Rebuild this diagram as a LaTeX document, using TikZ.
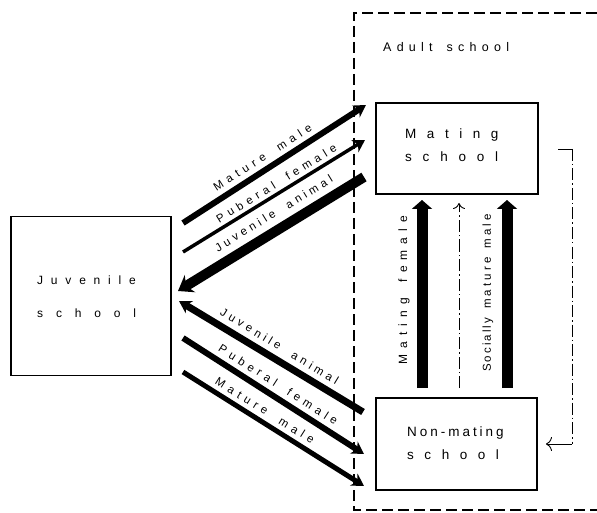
\documentclass[tikz,border=0pt]{standalone}
\usepackage{fontspec}
\setmainfont{Liberation Sans}
\usetikzlibrary{arrows.meta}
\newcommand\trk[2]{{\addfontfeatures{LetterSpace=#1}#2}}
\begin{document}
\begin{tikzpicture}[x=1pt,y=-1pt,
  schoolbox/.style={draw,line width=1.5pt,inner sep=0pt},
  boxtxt/.style={anchor=base west,inner sep=0pt,font=\fontsize{13.5}{15}\selectfont},
  juvtxt/.style={anchor=base west,inner sep=0pt,font=\fontsize{12}{14}\selectfont},
  lbl/.style={inner sep=0pt,font=\fontsize{11.5}{13}\selectfont},
  fat/.style={line width=#1,line cap=butt},
  headS/.style={-{Stealth[length=12pt,width=14pt]}},
  headL/.style={-{Stealth[length=14pt,width=20pt]}},
  uphead/.style={-{Triangle[length=9pt,width=20pt]}},
  dashdot/.style={line width=0.9pt,dash pattern=on 12pt off 3pt on 1.5pt off 3pt},
  adultline/.style={line width=1.3pt,dash pattern=on 11pt off 5pt}]
\useasboundingbox (0,0) rectangle (597,513);

% adult school frame (open on the right)
\coordinate (ftr) at (597,13);
\coordinate (ftl) at (354,13);
\coordinate (fbl) at (354,510);
\coordinate (fbr) at (597,510);
\draw[adultline] (ftr) -- (ftl) -- (fbl) -- (fbr);
\node[anchor=base west,inner sep=0pt,font=\fontsize{12.5}{14}\selectfont] (adult) at (383,52)
  {\trk{42}{Adult}\hspace{14pt}\trk{42}{school}};

% boxes
\node[schoolbox,minimum width=160pt,minimum height=159pt] (juv) at (91,296) {};
\node[juvtxt] (juvA) at (37,284) {\trk{65}{Juvenile}};
\node[juvtxt] (juvB) at (37,317) {\trk{107}{school}};

\node[schoolbox,minimum width=162pt,minimum height=91pt] (mat) at (457,148.5) {};
\node[boxtxt] (matA) at (405,139) {\trk{78}{Mating}};
\node[boxtxt] (matB) at (405,162) {\trk{80}{school}};

\node[schoolbox,minimum width=161pt,minimum height=92pt] (non) at (456.5,444) {};
\node[boxtxt] (nonA) at (407,436) {\trk{22}{Non-mating}};
\node[boxtxt] (nonB) at (407,459) {\trk{78}{school}};

% upper diagonal arrows
\coordinate (umm1) at (183,223); \coordinate (umm2) at (366,105);
\coordinate (upf1) at (183,252); \coordinate (upf2) at (365,140);
\coordinate (uja1) at (364,177); \coordinate (uja2) at (178,291);
\draw[fat=6pt,headS] (umm1) -- node[lbl,above=5pt,sloped,pos=.47] {\trk{42}{Mature}\hspace{15pt}\trk{42}{male}} (umm2);
\draw[fat=3.5pt,headS] (upf1) -- node[lbl,above=3.5pt,sloped,pos=.54] {\trk{40}{Puberal}\hspace{14pt}\trk{40}{female}} (upf2);
\draw[fat=10pt,headL] (uja1) -- node[lbl,above=7pt,sloped,pos=.44] {\trk{33}{Juvenile}\hspace{14pt}\trk{33}{animal}} (uja2);

% lower diagonal arrows
\coordinate (lja1) at (363,412); \coordinate (lja2) at (179,301);
\coordinate (lpf1) at (183,338); \coordinate (lpf2) at (364,454);
\coordinate (lmm1) at (183,372); \coordinate (lmm2) at (364,486);
\draw[fat=7pt,headS] (lja1) -- node[lbl,above=5.5pt,sloped,pos=.49] {\trk{33}{Juvenile}\hspace{14pt}\trk{33}{animal}} (lja2);
\draw[fat=6pt,headS] (lpf1) -- node[lbl,above=5pt,sloped,pos=.49] {\trk{40}{Puberal}\hspace{14pt}\trk{40}{female}} (lpf2);
\draw[fat=5pt,headS] (lmm1) -- node[lbl,above=4.5pt,sloped,pos=.42] {\trk{42}{Mature}\hspace{15pt}\trk{42}{male}} (lmm2);

% vertical arrows between non-mating and mating school
\coordinate (mf1) at (422,388); \coordinate (mf2) at (422,200);
\coordinate (dd1) at (459,388); \coordinate (dd2) at (459,203);
\coordinate (sm1) at (507,388); \coordinate (sm2) at (507,200);
\draw[fat=11pt,uphead] (mf1) -- (mf2);
\draw[fat=11pt,uphead] (sm1) -- (sm2);
\draw[dashdot,-{To[length=6pt,width=12pt]}] (dd1) -- (dd2);
\node[lbl,rotate=90,font=\fontsize{12}{14}\selectfont] (mflbl) at (404,290) {\trk{50}{Mating}\hspace{16pt}\trk{50}{female}};
\node[lbl,rotate=90] (smlbl) at (488,293) {\trk{18}{Socially}\hspace{9pt}\trk{27}{mature}\hspace{9pt}\trk{27}{male}};

% loop from mating school back to non-mating school
\coordinate (lp1) at (558,149);
\coordinate (lp2) at (572,149);
\coordinate (lp3) at (572,444);
\coordinate (lp4) at (546,444);
\draw[line width=0.9pt] (lp1) -- (lp2);
\draw[dashdot] (lp2) -- (lp3);
\draw[line width=0.9pt,-{To[length=6pt,width=14pt]}] (lp3) -- (lp4);
\end{tikzpicture}
\end{document}
